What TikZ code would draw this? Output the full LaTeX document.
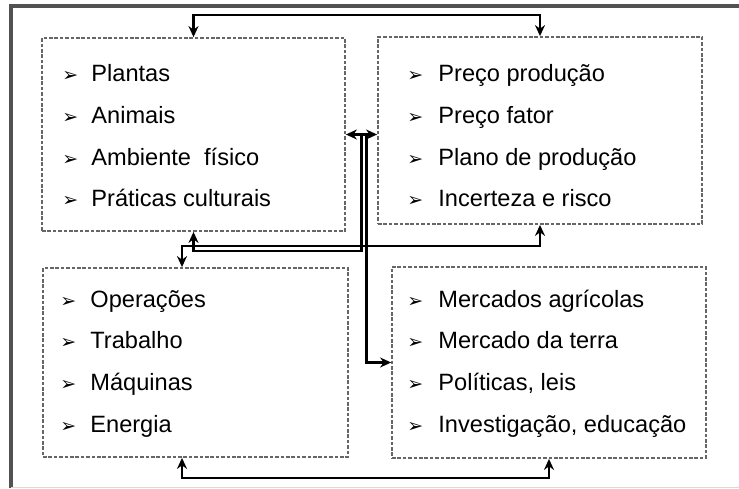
\documentclass[tikz,border=0pt]{standalone}
\usepackage{fontspec}
\setmainfont{Liberation Sans}
\newfontfamily\bulletfont{DejaVu Sans}
\usetikzlibrary{positioning, fit, calc, arrows.meta}
\newcommand{\bul}{{\bulletfont\fontsize{9.5}{10}\selectfont\char"27A2}}

\begin{document}
\begin{tikzpicture}[x=0.5pt, y=-0.5pt,
  box/.style={draw=black!60, line width=0.9pt, dash pattern=on 1.8pt off 0.9pt, inner sep=0pt, rectangle},
  item/.style={anchor=base west, inner sep=0pt, font=\fontsize{11.8}{13}\selectfont},
  bullet/.style={anchor=base west, inner sep=0pt},
  link/.style={draw=black, line width=1.2pt, >={Stealth[length=5.5pt, width=5pt]}}]
\useasboundingbox (0,0) rectangle (739,488);
% frame
\draw[line width=2.2pt, draw=black!68] (11,488) -- (11,6) -- (739,6);
\draw[line width=0.5pt, draw=black!15] (11,487) -- (739,487);
% boxes
\node[box, fit={(42,38) (345,231)}] (tl) {};
\node[box, fit={(378,37) (702,224)}] (tr) {};
\node[box, fit={(43,268) (348,457)}] (bl) {};
\node[box, fit={(392,267) (706,458)}] (br) {};
% lists
\foreach \t [count=\i] in {Plantas, Animais, Ambiente~ físico, Práticas culturais} {
  \node[bullet] (tl-b\i) at (62, 40+41.7*\i) {\bul};
  \node[item] (tl-\i) at (91, 40+41.7*\i) {\t};
}
\foreach \t [count=\i] in {Preço produção, Preço fator, Plano de produção, Incerteza e risco} {
  \node[bullet] (tr-b\i) at (407, 40+41.7*\i) {\bul};
  \node[item] (tr-\i) at (438, 40+41.7*\i) {\t};
}
\foreach \t [count=\i] in {Operações, Trabalho, Máquinas, Energia} {
  \node[bullet] (bl-b\i) at (60, 265.5+41.7*\i) {\bul};
  \node[item] (bl-\i) at (90, 265.5+41.7*\i) {\t};
}
\foreach \t [count=\i] in {Mercados agrícolas, Mercado da terra, {Políticas, leis}, {Investigação, educação}} {
  \node[bullet] (br-b\i) at (407, 265.5+41.7*\i) {\bul};
  \node[item] (br-\i) at (438, 265.5+41.7*\i) {\t};
}
% connectors
\coordinate (mid) at ($(tl.east)!0.5!(tr.west)$);
\draw[link, <->] (tl.east) -- (tl.east -| tr.west);
\draw[link, ->] (mid) -- ++(0,118.5) -| (tl.south);
\draw[link, ->] ([xshift=2.5pt]mid) |- (br.west);
\draw[link, <->] (tl.north) -- ++(0,-22) -| (tr.north);
\draw[link, <->] ([xshift=-6.75pt]bl.north) -- ++(0,-21) -| (tr.south);
\draw[link, <->] ([xshift=-6.75pt]bl.south) -- ++(0,20) -| (br.south);
\end{tikzpicture}
\end{document}
